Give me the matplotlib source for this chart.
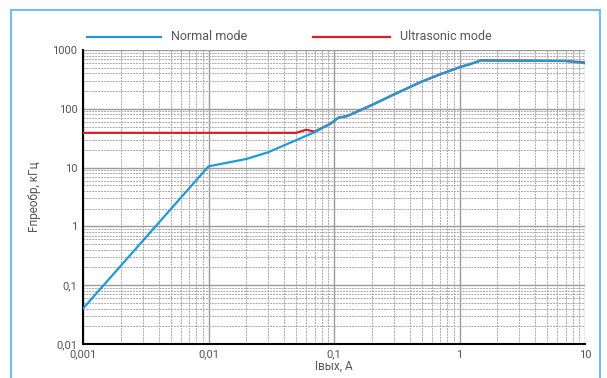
import matplotlib
matplotlib.use("Agg")
import matplotlib.pyplot as plt
from matplotlib.patches import Rectangle
from matplotlib.ticker import FixedLocator, LogLocator, NullFormatter

plt.rcParams['font.family'] = ['Roboto', 'DejaVu Sans']

normal_x = [0.001, 0.01, 0.02, 0.03, 0.07, 0.094, 0.109, 0.127, 0.2, 0.3, 0.49, 0.7, 1.03, 1.2, 1.48, 7.0, 10.0]
normal_y = [0.04, 10.5, 14.0, 18.3, 40.0, 56.0, 71.0, 75.0, 116.0, 175.0, 285.0, 385.0, 520.0, 570.0, 665.0, 650.0, 595.0]

ultra_x = [0.001, 0.05, 0.06, 0.07, 0.094, 0.109, 0.127, 0.2, 0.3, 0.49, 0.7, 1.03, 1.2, 1.48, 7.0, 10.0]
ultra_y = [39.0, 39.0, 44.0, 41.0, 56.0, 71.0, 75.0, 116.0, 175.0, 285.0, 385.0, 520.0, 570.0, 665.0, 650.0, 615.0]

x_ticks = [0.001, 0.01, 0.1, 1, 10]
x_labels = ["0,001", "0,01", "0,1", "1", "10"]
y_ticks = [0.01, 0.1, 1, 10, 100, 1000]
y_labels = ["0,01", "0,1", "1", "10", "100", "1000"]

blue = "#1f9ad6"
red = "#d81f2e"
txt = "#555555"

fig = plt.figure(figsize=(6.07, 3.78), dpi=100)
fig.patches.append(Rectangle((11/607, -0.05), (600-11)/607, 1.05 - 10/378, transform=fig.transFigure,
                             fill=False, edgecolor="#6cc0ea", linewidth=1.5))
ax = fig.add_axes([83/607, 34/378, (585-83)/607, (344-50)/378])
ax.set_xscale('log')
ax.set_yscale('log')
ax.set_xlim(0.001, 10)
ax.set_ylim(0.01, 1000)

ax.plot(ultra_x, ultra_y, color=red, lw=1.6, zorder=3)
ax.plot(normal_x, normal_y, color=blue, lw=1.6, zorder=4)

ax.xaxis.set_major_locator(FixedLocator(x_ticks))
ax.set_xticklabels(x_labels)
ax.yaxis.set_major_locator(FixedLocator(y_ticks))
ax.set_yticklabels(y_labels)
ax.xaxis.set_minor_locator(LogLocator(base=10, subs=range(2, 10), numticks=20))
ax.yaxis.set_minor_locator(LogLocator(base=10, subs=range(2, 10), numticks=20))
ax.xaxis.set_minor_formatter(NullFormatter())
ax.yaxis.set_minor_formatter(NullFormatter())

ax.grid(True, which='major', color="#9a9a9a", lw=1.0, ls='-')
ax.grid(True, which='minor', color="#a8a8a8", lw=0.7, ls=(0, (2, 1)))
ax.set_axisbelow(True)
ax.tick_params(which='both', length=0, labelsize=8, colors=txt, pad=4)

for s in ['top', 'right']:
    ax.spines[s].set_visible(False)
for s in ['left', 'bottom']:
    ax.spines[s].set_color('black')
    ax.spines[s].set_linewidth(1.5)

ax.set_xlabel("Iвых, А", fontsize=8.5, color=txt, labelpad=0)
ax.set_ylabel("Fпреобр, кГц", fontsize=8.5, color=txt, labelpad=8)

# legend
fig.add_artist(plt.Line2D([87/607, 161/607], [1-37/378]*2, color=blue, lw=1.6))
fig.text(171/607, 1-37/378, "Normal mode", fontsize=9, color=txt, va='center')
fig.add_artist(plt.Line2D([313/607, 390/607], [1-37/378]*2, color=red, lw=1.6))
fig.text(400/607, 1-37/378, "Ultrasonic mode", fontsize=9, color=txt, va='center')

fig.savefig("out.png", dpi=100)
